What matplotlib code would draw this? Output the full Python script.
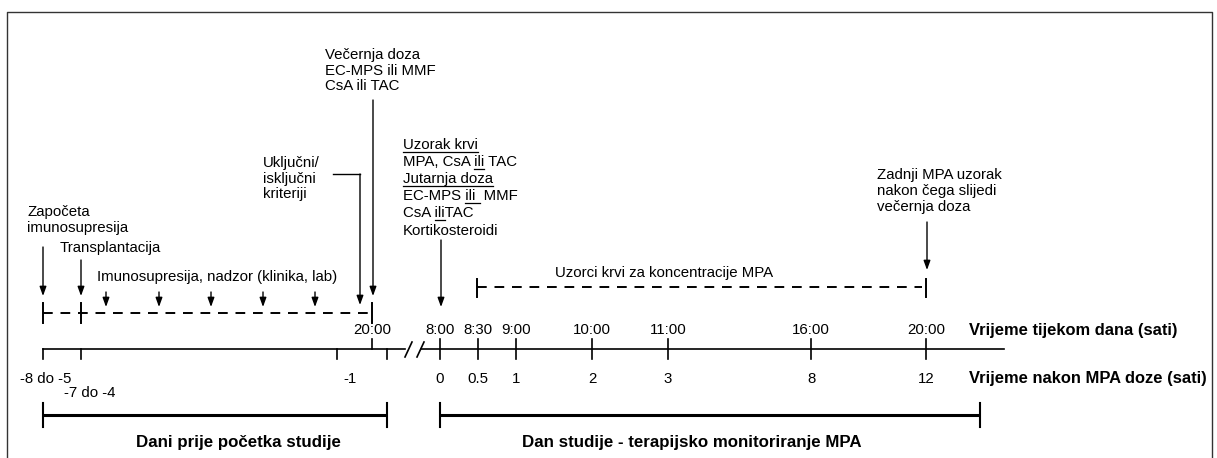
import matplotlib
matplotlib.use("Agg")
import matplotlib.pyplot as plt

plt.rcParams['font.family'] = ['Liberation Sans', 'DejaVu Sans']

# ---------------- data (timeline, pixel layout coordinates) ----------------
# left section (days before study)
pre_tick_x = [43, 81, 337, 387]
pre_labels = ["-8 do -5", "-7 do -4", "-1"]
pre_label_x = [46, 90, 350]
pre_label_y = [379, 393, 379]
eve_x = 372                      # 20:00 evening dose day -1
# right section (study day)
day_times = ["8:00", "8:30", "9:00", "10:00", "11:00", "16:00", "20:00"]
post_dose_h = ["0", "0.5", "1", "2", "3", "8", "12"]
study_tick_x = [440, 478, 516, 592, 668, 811, 926]
small_arrow_x = [106, 159, 211, 263, 315]

FS = 10.8
FSB = 12.2
fig = plt.figure(figsize=(12.17, 4.58), dpi=100)
ax = fig.add_axes([0, 0, 1, 1])
ax.set_xlim(0, 1217)
ax.set_ylim(458, 0)
ax.axis('off')

K = 'black'
# frame
ax.plot([7, 7, 1212, 1212], [470, 12, 12, 470], color='#333333', lw=1.0, solid_capstyle='butt')

# ----- main axis -----
AY = 349
ax.plot([43, 405], [AY, AY], color=K, lw=1.2)
ax.plot([421, 1004], [AY, AY], color=K, lw=1.2)
ax.plot([405, 412], [357, 342], color=K, lw=1.2)
ax.plot([417, 424], [357, 342], color=K, lw=1.2)
for x in pre_tick_x:
    ax.plot([x, x], [AY, 359], color=K, lw=1.2)
ax.plot([eve_x, eve_x], [339, AY], color=K, lw=1.2)
for x in study_tick_x:
    ax.plot([x, x], [339, 359], color=K, lw=1.2)

# labels on the axis
ax.text(eve_x, 330, "20:00", ha='center', va='center', fontsize=FS)
for x, s in zip(study_tick_x, day_times):
    ax.text(x, 330, s, ha='center', va='center', fontsize=FS)
for x, s in zip(study_tick_x, post_dose_h):
    ax.text(x, 379, s, ha='center', va='center', fontsize=FS)
for x, y, s in zip(pre_label_x, pre_label_y, pre_labels):
    ax.text(x, y, s, ha='center', va='center', fontsize=FS)
ax.text(969, 330, "Vrijeme tijekom dana (sati)", ha='left', va='center', fontsize=FSB - 0.3, fontweight='bold')
ax.text(969, 379, "Vrijeme nakon MPA doze (sati)", ha='left', va='center', fontsize=FSB - 0.3, fontweight='bold')

# ----- bottom bars -----
for x0, x1 in [(43, 387), (440, 980)]:
    ax.plot([x0, x1], [415, 415], color=K, lw=2.2, solid_capstyle='butt')
    ax.plot([x0, x0], [403, 427], color=K, lw=1.5)
    ax.plot([x1, x1], [403, 427], color=K, lw=1.5)
ax.text(238, 442, "Dani prije početka studije", ha='center', va='center', fontsize=FSB, fontweight='bold')
ax.text(692, 442, "Dan studije - terapijsko monitoriranje MPA", ha='center', va='center', fontsize=FSB, fontweight='bold')

# ----- dashed lines -----
dash = (0, (5, 4))
ax.plot([43, 372], [313, 313], color=K, lw=1.4, linestyle=dash)
for x in [43, 81, 372]:
    ax.plot([x, x], [303, 323], color=K, lw=1.4)
ax.plot([477, 922], [287, 287], color=K, lw=1.4, linestyle=dash)
for x in [477, 926]:
    ax.plot([x, x], [279, 297], color=K, lw=1.4)

# ----- arrows -----
def arrow(x, y0, y1):
    ax.annotate("", xy=(x, y1), xytext=(x, y0),
                arrowprops=dict(arrowstyle='-|>,head_length=0.55,head_width=0.2',
                                color=K, lw=1.0, shrinkA=0, shrinkB=0))

arrow(43, 247, 296)
arrow(81, 260, 296)
for x in small_arrow_x:
    arrow(x, 292, 307)
ax.plot([333, 360], [174, 174], color=K, lw=1.0)
arrow(360, 174, 305)
arrow(373, 100, 296)
arrow(441, 240, 307)
arrow(927, 222, 270)

# ----- annotation texts -----
def lines(x, ys, texts):
    for y, s in zip(ys, texts):
        ax.text(x, y, s, ha='left', va='center', fontsize=FS)

lines(27, [212, 228], ["Započeta", "imunosupresija"])
lines(60, [248], ["Transplantacija"])
lines(97, [277], ["Imunosupresija, nadzor (klinika, lab)"])
lines(263, [163, 179, 194], ["Uključni/", "isključni", "kriteriji"])
lines(325, [55, 71, 86], ["Večernja doza", "EC-MPS ili MMF", "CsA ili TAC"])
uz_y = [145, 162, 179, 196, 213, 231]
uz_t = ["Uzorak krvi", "MPA, CsA ili TAC", "Jutarnja doza", "EC-MPS ili  MMF", "CsA iliTAC", "Kortikosteroidi"]
lines(403, uz_y, uz_t)
lines(555, [273], ["Uzorci krvi za koncentracije MPA"])
lines(877, [175, 191, 207], ["Zadnji MPA uzorak", "nakon čega slijedi", "večernja doza"])

# underlines
fig.canvas.draw()
rend = fig.canvas.get_renderer()

def width(s):
    t = ax.text(0, 0, s, fontsize=FS)
    w = t.get_window_extent(rend).width
    t.remove()
    return w

def underline(x, y, prefix, word):
    off = (width(prefix + "x") - width("x")) if prefix else 0
    w = width(word) if word.strip() == word else (width(word.strip() + " x") - width("x"))
    ax.plot([x + off, x + off + w], [y + 7, y + 7], color=K, lw=0.9)

underline(403, uz_y[0], "", "Uzorak krvi")
underline(403, uz_y[1], "MPA, CsA ", "ili")
underline(403, uz_y[2], "", "Jutarnja doza")
underline(403, uz_y[3], "EC-MPS ", "ili ")
underline(403, uz_y[4], "CsA ", "ili")

fig.savefig("out.png", dpi=100)
